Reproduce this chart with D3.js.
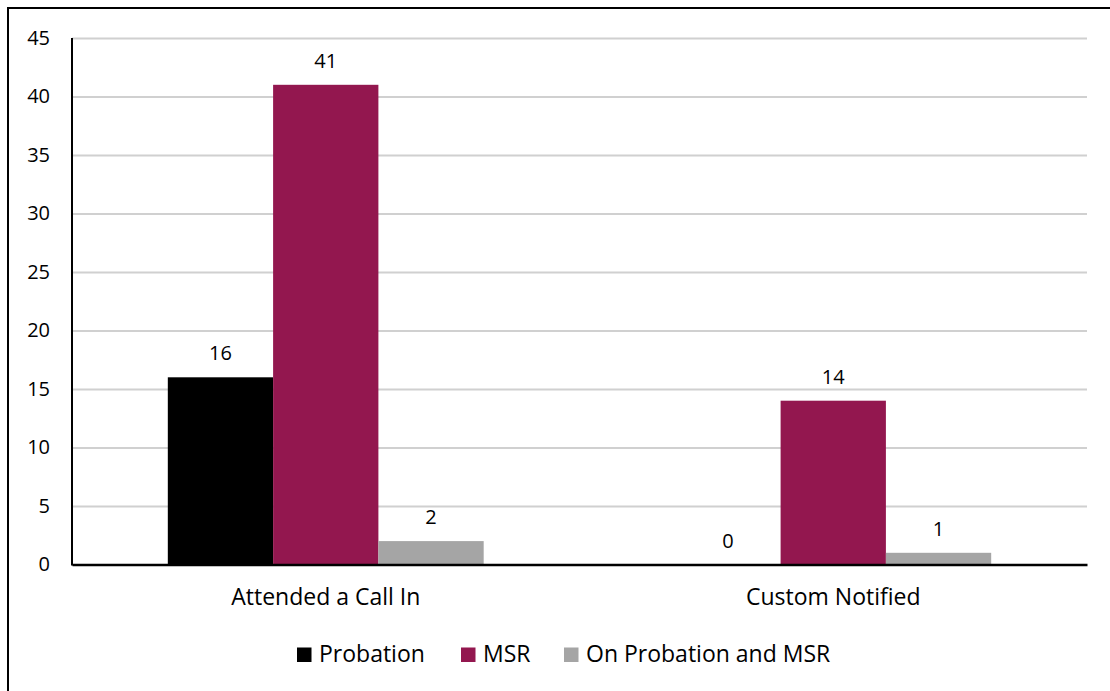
<!DOCTYPE html>
<html>
<head>
<meta charset="utf-8">
<script src="https://cdn.jsdelivr.net/npm/d3@7"></script>
<style>
  html, body { margin: 0; padding: 0; background: #fff; }
  svg { display: block; }
  text { font-family: "Open Sans", sans-serif; fill: #000; }
</style>
</head>
<body>
<svg id="chart" width="1110" height="691"></svg>
<script>
const categories = ["Attended a Call In", "Custom Notified"];
const seriesNames = ["Probation", "MSR", "On Probation and MSR"];
const probation = [16, 0];
const msr = [41, 14];
const onBoth = [2, 1];
const yTicks = [0, 5, 10, 15, 20, 25, 30, 35, 40, 45];
const colors = ["#000000", "#93174F", "#A5A5A5"];

const seriesValues = [probation, msr, onBoth];

const svg = d3.select("#chart");
const W = 1110, H = 691;
const plot = { left: 72, right: 1087, top: 38, bottom: 564.5 };

// outer border (top/left visible)
svg.append("rect")
  .attr("x", 8).attr("y", 8)
  .attr("width", W + 10).attr("height", H + 10)
  .attr("fill", "#fff").attr("stroke", "#000").attr("stroke-width", 2);

const y = d3.scaleLinear().domain([0, 45]).range([plot.bottom, plot.top]);
const x0 = d3.scaleBand().domain(categories).range([plot.left, plot.right]).padding(0);
const x1 = d3.scaleBand().domain(seriesNames).range([0, x0.bandwidth()])
  .paddingInner(0).paddingOuter(0.91);

// gridlines
const yAxisGrid = d3.axisLeft(y).tickValues(yTicks.filter(d => d !== 0))
  .tickSize(-(plot.right - plot.left)).tickFormat("");
const grid = svg.append("g").attr("transform", `translate(${plot.left},0)`).call(yAxisGrid);
grid.select(".domain").remove();
grid.selectAll("line").attr("stroke", "#D0D0D0").attr("stroke-width", 2);

// y tick labels
const yAxis = d3.axisLeft(y).tickValues(yTicks).tickSize(0).tickPadding(22);
const ya = svg.append("g").attr("transform", `translate(${plot.left},0)`).call(yAxis);
ya.select(".domain").remove();
ya.selectAll("text").style("font-size", "20px").style("font-family", "'Open Sans', sans-serif")
  .attr("fill", "#000");

// bars
const groups = svg.append("g").selectAll("g")
  .data(categories)
  .join("g")
  .attr("transform", d => `translate(${x0(d)},0)`);

groups.selectAll("rect")
  .data((c, ci) => seriesNames.map((s, si) => ({ s, si, v: seriesValues[si][ci] })))
  .join("rect")
  .attr("x", d => x1(d.s))
  .attr("width", x1.bandwidth())
  .attr("y", d => y(d.v))
  .attr("height", d => y(0) - y(d.v))
  .attr("fill", d => colors[d.si]);

groups.selectAll("text.val")
  .data((c, ci) => seriesNames.map((s, si) => ({ s, si, v: seriesValues[si][ci] })))
  .join("text")
  .attr("class", "val")
  .attr("x", d => x1(d.s) + x1.bandwidth() / 2)
  .attr("y", d => y(d.v) - 17)
  .attr("text-anchor", "middle")
  .style("font-size", "20px")
  .text(d => d.v);

// axes lines
svg.append("line")
  .attr("x1", plot.left).attr("x2", plot.left)
  .attr("y1", plot.top).attr("y2", plot.bottom + 1)
  .attr("stroke", "#000").attr("stroke-width", 2);

const xAxis = d3.axisBottom(x0).tickSize(0).tickPadding(24);
const xa = svg.append("g").attr("transform", `translate(0,${plot.bottom})`).call(xAxis);
xa.select(".domain").attr("stroke", "#000").attr("stroke-width", 2.5);
xa.selectAll("text").style("font-size", "23px").style("font-family", "'Open Sans', sans-serif")
  .attr("fill", "#000");

// legend
const legendItems = [
  { name: seriesNames[0], color: colors[0], x: 297 },
  { name: seriesNames[1], color: colors[1], x: 461 },
  { name: seriesNames[2], color: colors[2], x: 564 }
];
const lg = svg.append("g");
const li = lg.selectAll("g").data(legendItems).join("g")
  .attr("transform", d => `translate(${d.x},0)`);
li.append("rect").attr("x", 0).attr("y", 647.5).attr("width", 14.5).attr("height", 14.5)
  .attr("fill", d => d.color);
li.append("text").attr("x", 22).attr("y", 662).style("font-size", "23px").text(d => d.name);
</script>
</body>
</html>
